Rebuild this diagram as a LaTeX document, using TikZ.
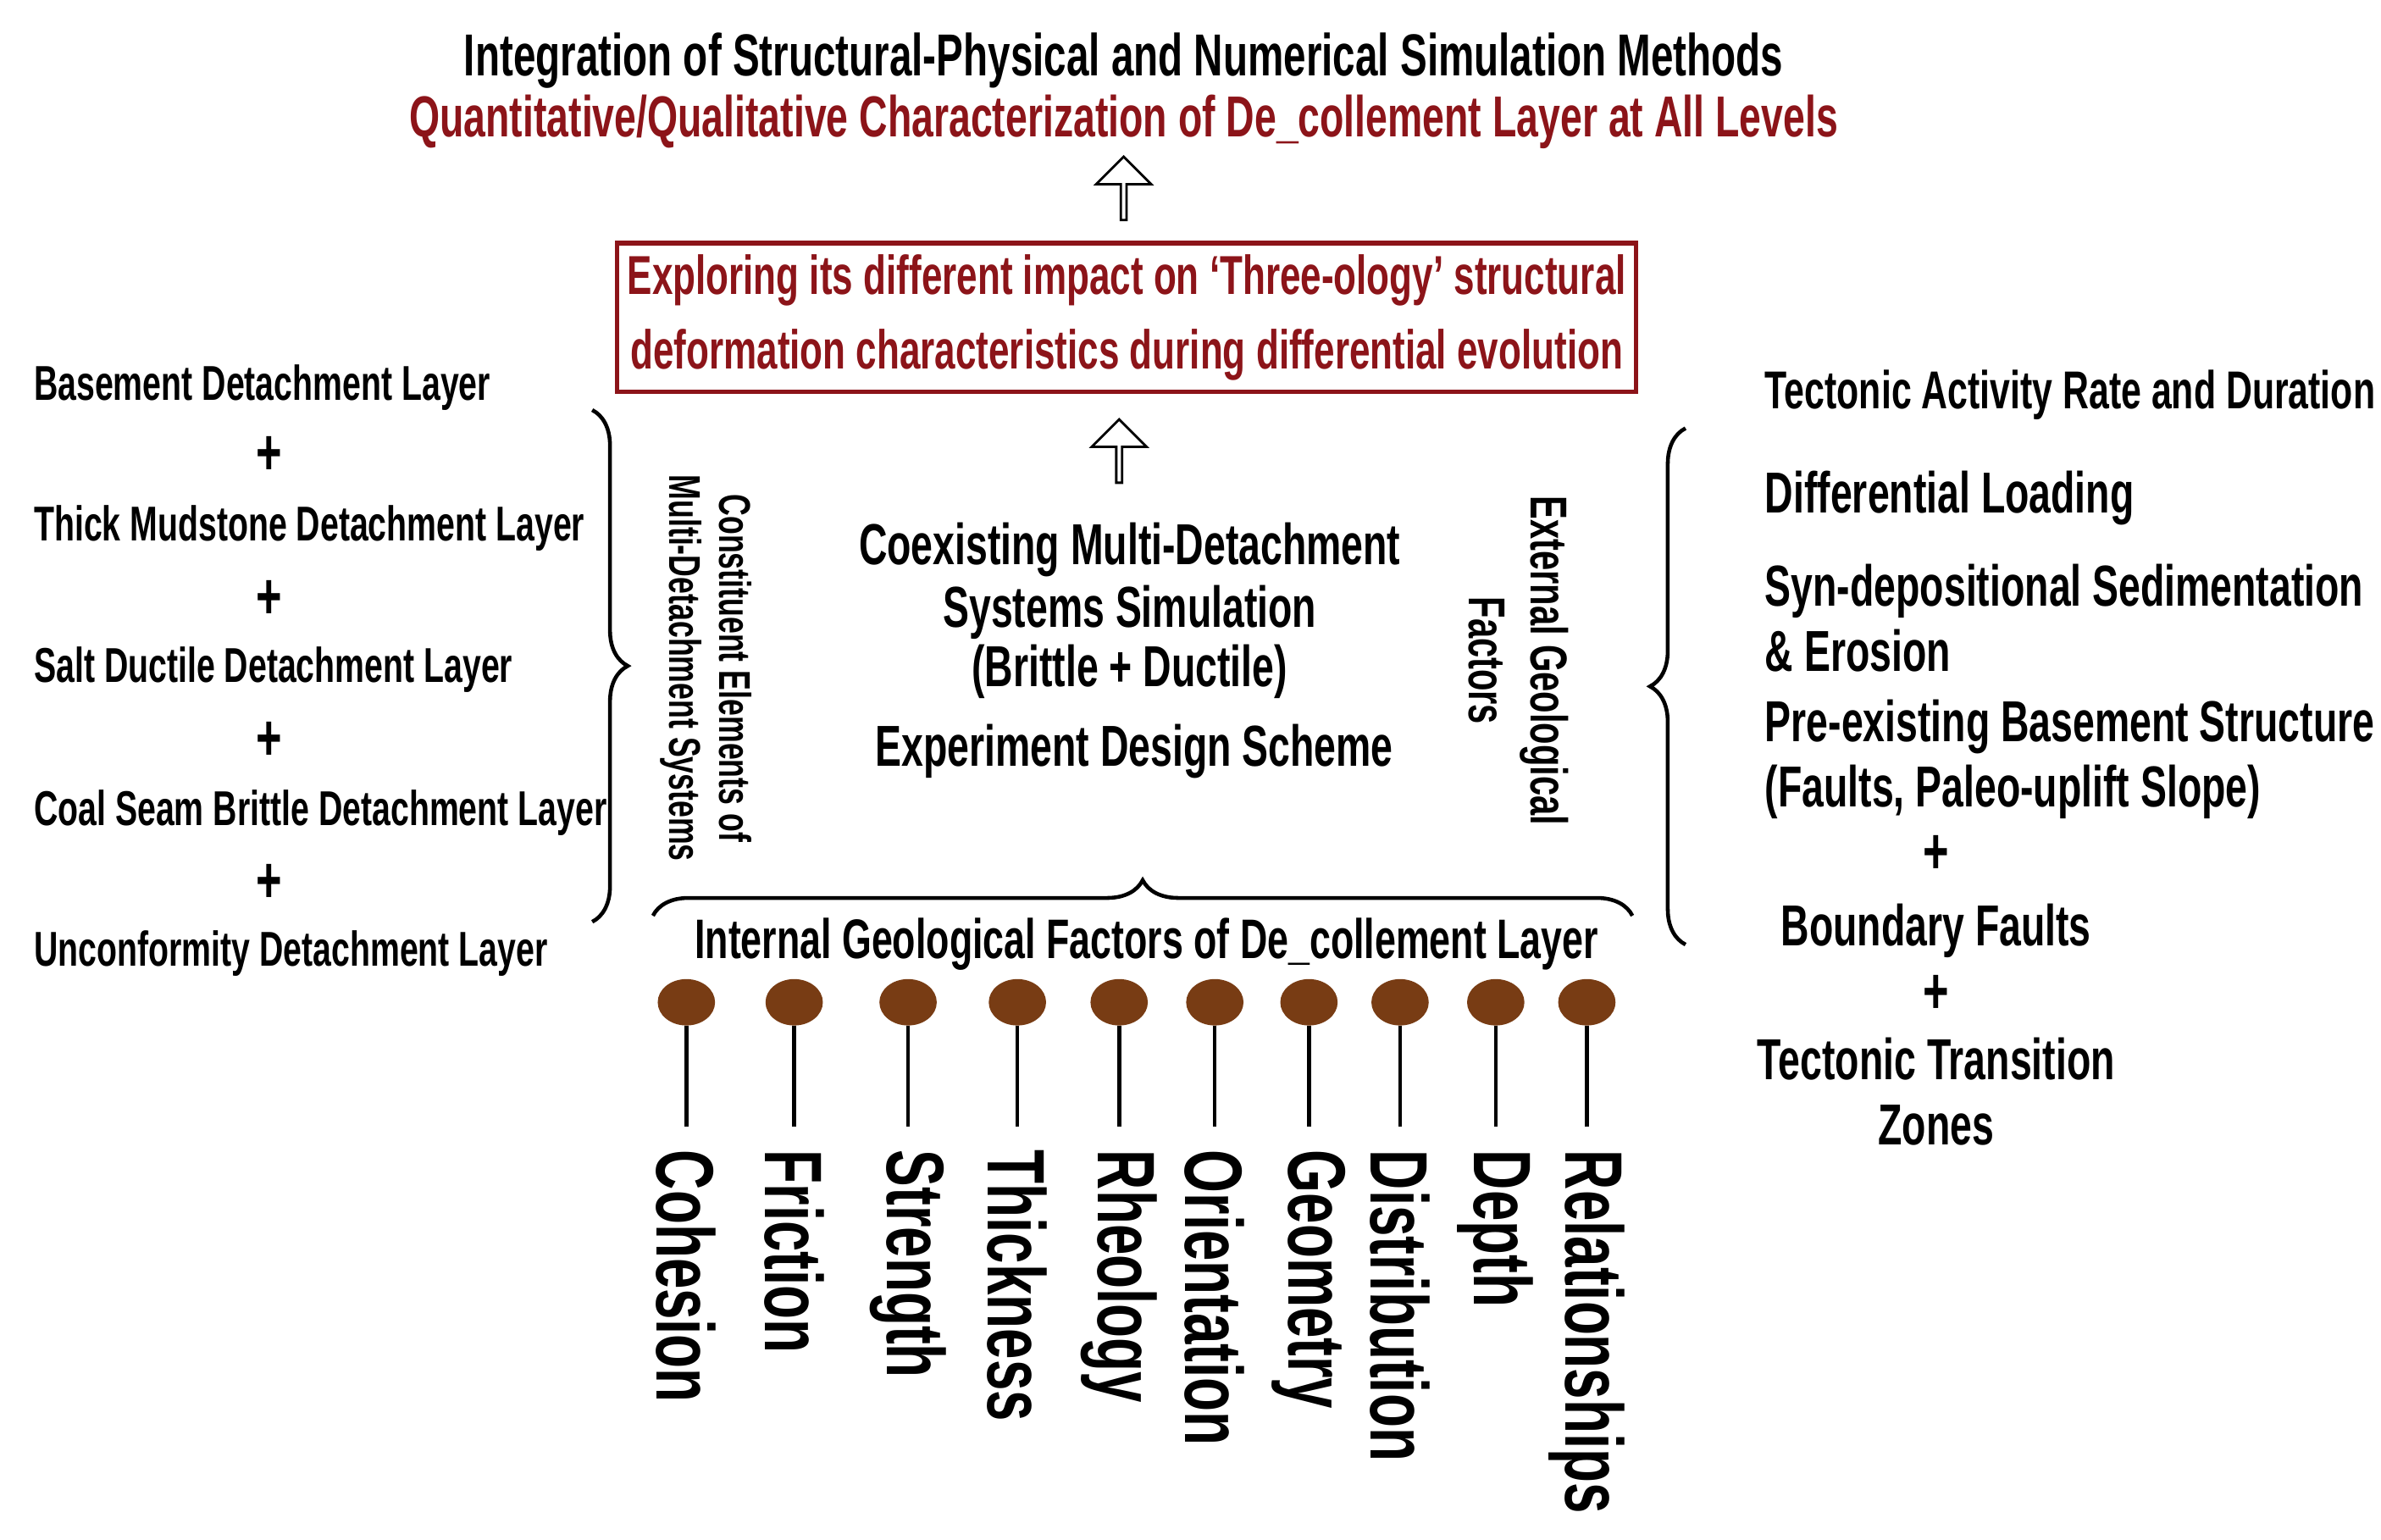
\documentclass[tikz,border=0pt]{standalone}
\usepackage{fontspec}
\setmainfont{Liberation Sans}[FakeStretch=0.68]
\usetikzlibrary{decorations.pathreplacing,shapes.arrows,shapes.geometric}
\definecolor{darkred}{RGB}{140,20,25}
\definecolor{pinbrown}{RGB}{120,60,20}
\tikzset{
  txt/.style={font=\bfseries\fontsize{19.5}{22}\selectfont, inner sep=0pt},
  lst/.style={txt, anchor=west, font=\bfseries\fontsize{16.5}{20}\selectfont},
  rlst/.style={txt, anchor=west},
  plus/.style={font=\bfseries\fontsize{22}{22}\selectfont, inner sep=0pt},
  hollow/.style={single arrow, draw, fill=white, thick, rotate=90, minimum height=0.75cm, minimum width=0.65cm, single arrow head extend=0.12cm, inner sep=0pt},
  bracedeco/.style={decorate, decoration={brace, amplitude=12pt}, line width=1.3pt},
  pin/.style={ellipse, fill=pinbrown, minimum width=0.68cm, minimum height=0.55cm, inner sep=0pt},
  factor/.style={font=\bfseries\fontsize{27.5}{27.5}\selectfont, rotate=-90, anchor=west, inner sep=0pt}
}
\begin{document}
\begin{tikzpicture}[x=0.018cm, y=-0.018cm]
\useasboundingbox (0,0) rectangle (1568,1014);
% top
\node[txt, font=\bfseries\fontsize{20}{22}\selectfont] (title) at (740,40) {Integration of Structural-Physical and Numerical Simulation Methods};
\node[txt, text=darkred, font=\bfseries\fontsize{19.5}{22}\selectfont] (sub) at (740,80) {Quantitative/Qualitative Characterization of De\_collement Layer at All Levels};
\node[hollow] (arrA) at (740,125) {};
\node[txt, text=darkred, draw=darkred, line width=1.5pt, minimum width=12.08cm, minimum height=1.76cm, align=center, font=\bfseries\fontsize{18.5}{21}\selectfont] (explore) at (742,209)
  {Exploring its different impact on `Three-ology' structural\\[4pt]deformation characteristics during differential evolution};
\node[hollow] (arrB) at (737,298) {};
% centre
\node[txt, align=center] (coex) at (744,402) {Coexisting Multi-Detachment\\[-1pt]Systems Simulation\\[-2pt](Brittle + Ductile)};
\node[txt] (design) at (747,495) {Experiment Design Scheme};
% left list
\node[lst] (l1) at (22,255) {Basement Detachment Layer};
\node[lst] (l2) at (22,348) {Thick Mudstone Detachment Layer};
\node[lst] (l3) at (22,441) {Salt Ductile Detachment Layer};
\node[lst] (l4) at (22,535) {Coal Seam Brittle Detachment Layer};
\node[lst] (l5) at (22,628) {Unconformity Detachment Layer};
\foreach \y in {300,395,488,582}
  \node[plus] at (177,\y) {+};
\draw[bracedeco] (390,270) -- (390,607);
\node[txt, rotate=-90, align=center, font=\bfseries\fontsize{15}{17}\selectfont] (constit) at (465,440) {Constituent Elements of\\Multi-Detachment Systems};
% right list
\node[txt, rotate=-90, align=center, font=\bfseries\fontsize{17.5}{21}\selectfont] (extern) at (1000,435) {External Geological\\Factors};
\draw[bracedeco] (1110,622) -- (1110,282);
\node[rlst, font=\bfseries\fontsize{18}{22}\selectfont] (r1) at (1162,260) {Tectonic Activity Rate and Duration};
\node[rlst] (r2) at (1162,328) {Differential Loading};
\node[rlst, align=left] (r3) at (1162,407) {Syn-depositional Sedimentation\\[0pt]\& Erosion};
\node[rlst, align=left] (r4) at (1162,500) {Pre-existing Basement Structure\\[0pt](Faults, Paleo-uplift Slope)};
\node[plus] at (1275,563) {+};
\node[txt] (r5) at (1275,613) {Boundary Faults};
\node[plus] at (1275,655) {+};
\node[txt, align=center] (r6) at (1275,719) {Tectonic Transition\\[0pt]Zones};
% bottom
\draw[bracedeco] (430,603) -- (1075,603);
\node[txt, font=\bfseries\fontsize{18.8}{21}\selectfont] (internal) at (755,622) {Internal Geological Factors of De\_collement Layer};
\foreach \x/\w [count=\i] in {452/Cohesion,523/Friction,598/Strength,670/Thickness,737/Rheology,800/Orientation,862/Geometry,922/Distribution,985/Depth,1045/Relationships}{
  \node[pin] (p\i) at (\x,660) {};
  \coordinate (e\i) at (\x,742);
  \draw[line width=1.3pt] (p\i) -- (e\i);
  \node[factor] (f\i) at (\x,757) {\w};
}
\end{tikzpicture}
\end{document}
